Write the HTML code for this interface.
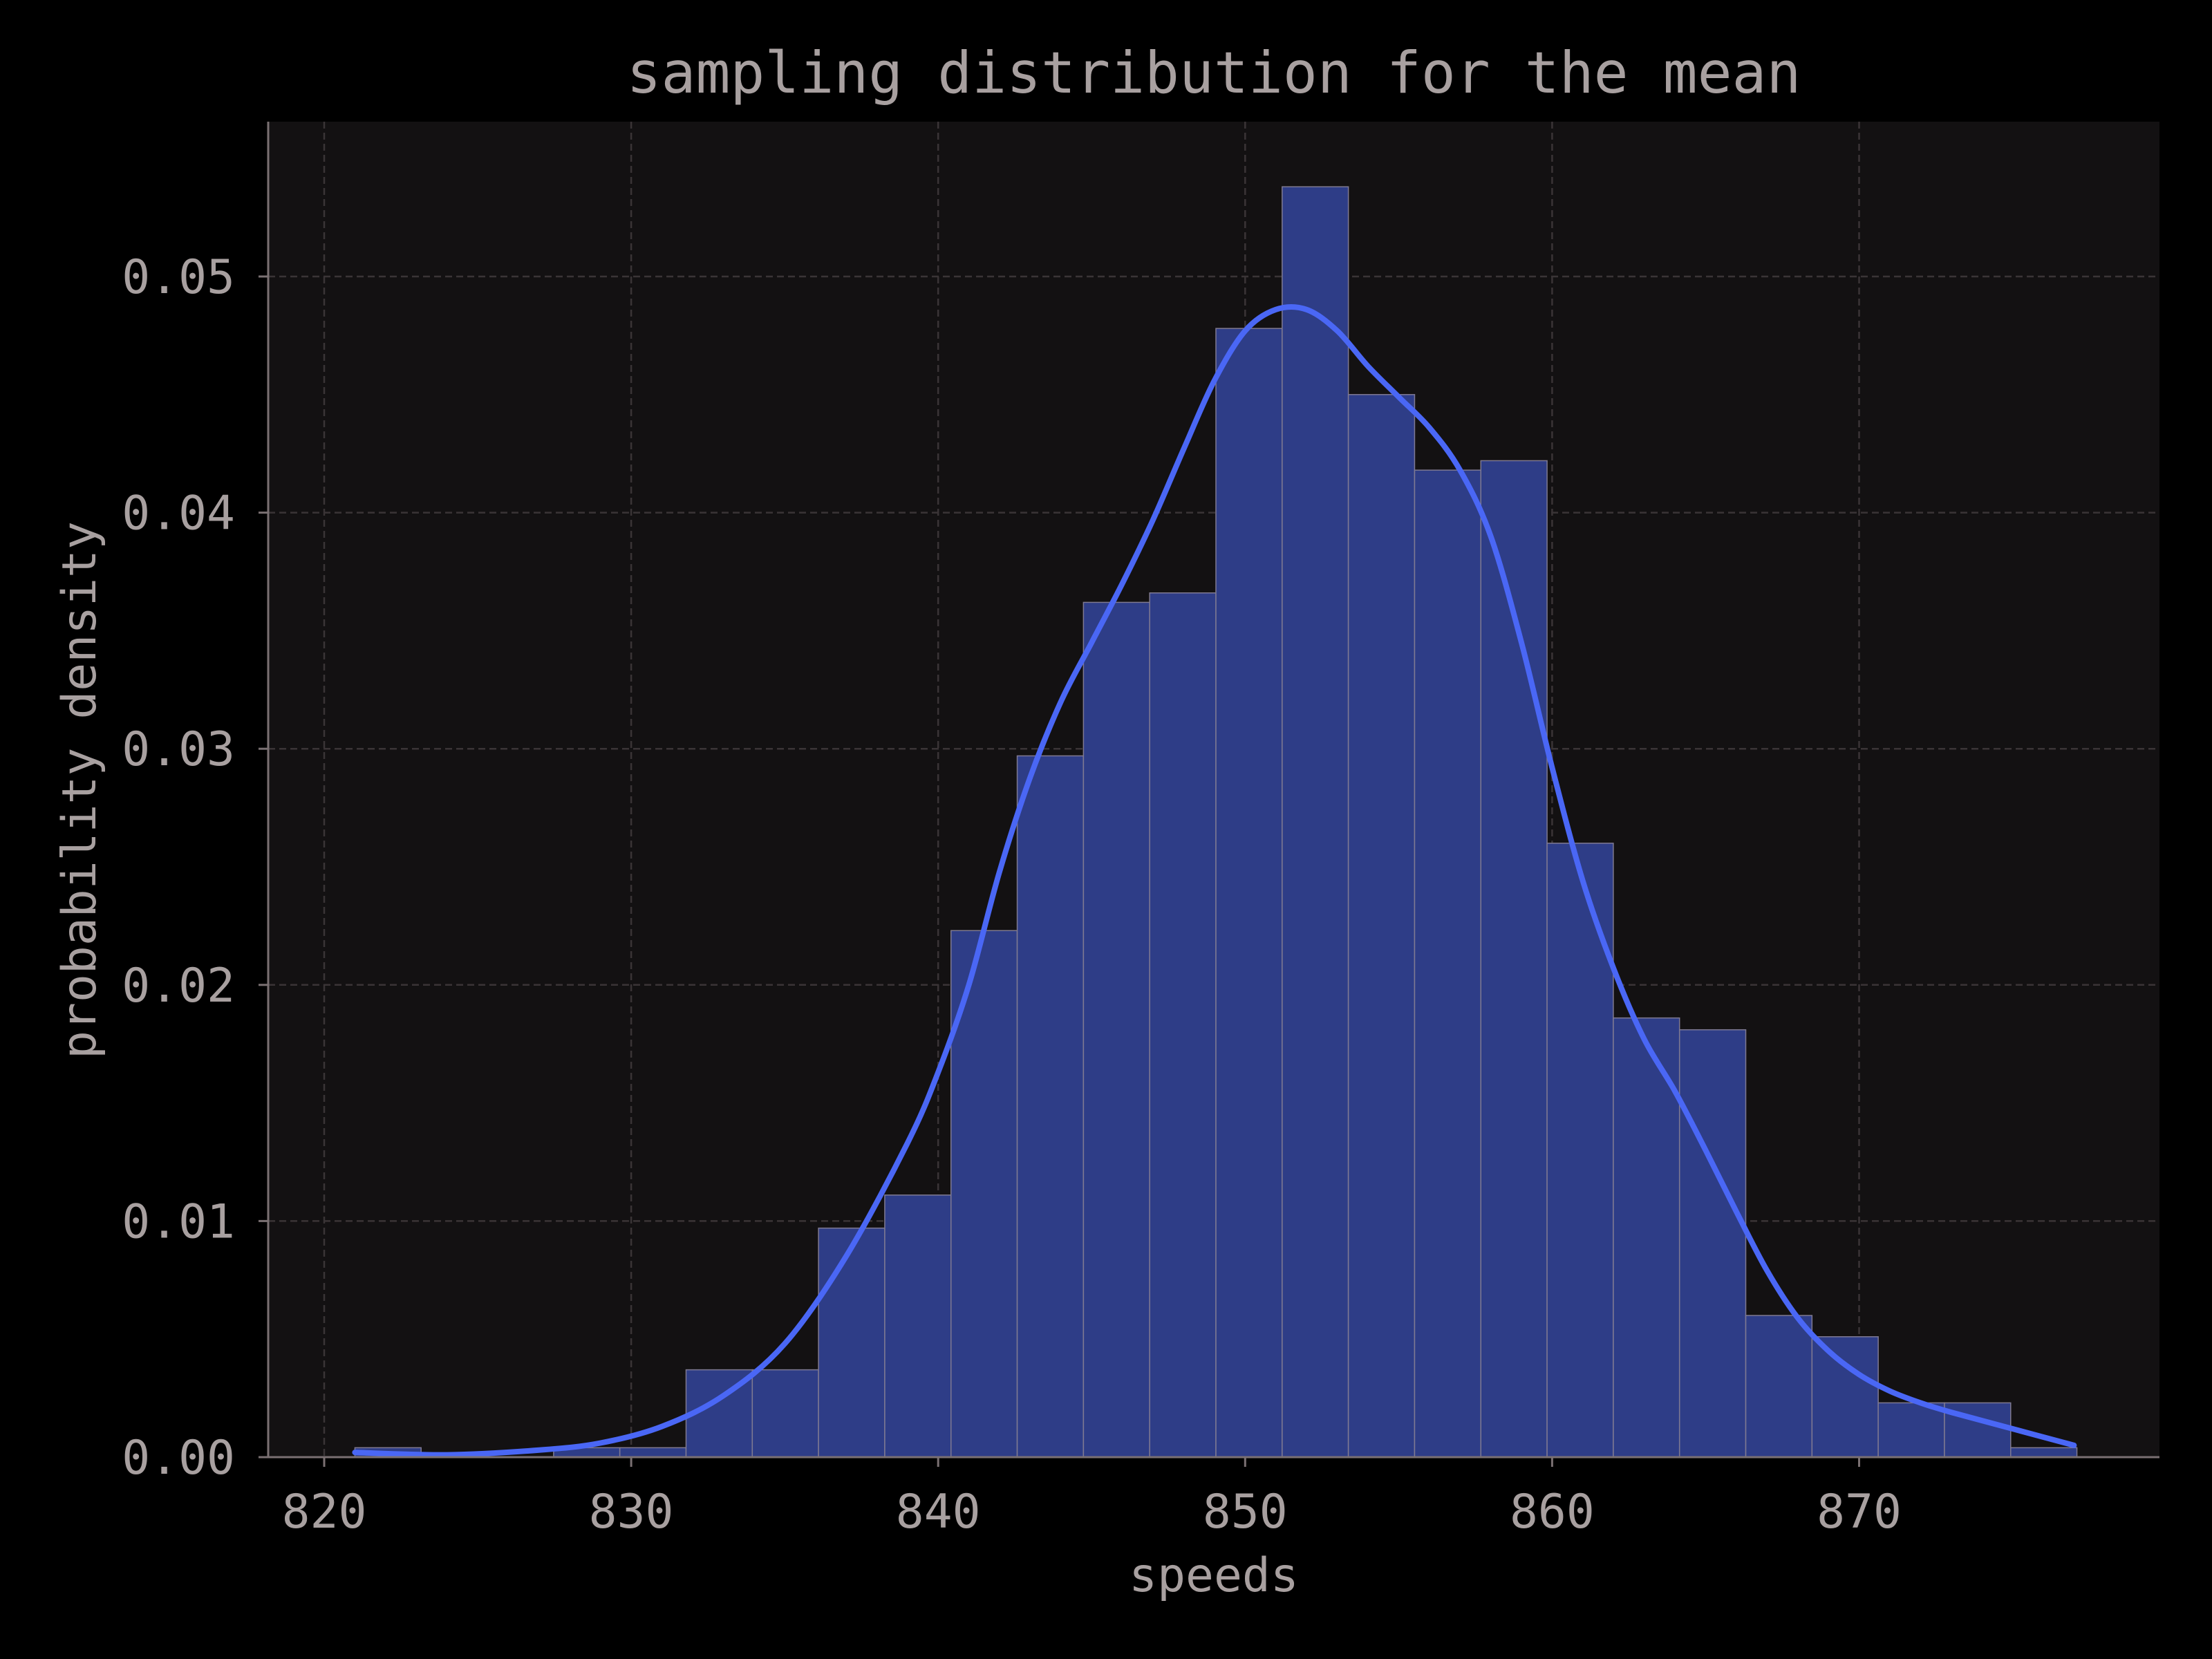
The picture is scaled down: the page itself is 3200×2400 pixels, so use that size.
<!DOCTYPE html>
<html><head><meta charset="utf-8"><style>
html,body{margin:0;padding:0;background:#000;}
svg{display:block;}
text{font-family:"DejaVu Sans Mono","Liberation Mono",monospace;fill:#a8a0a0;}
</style></head><body>
<svg id="chart" width="3200" height="2400" viewBox="0 0 3200 2400">
<rect x="0" y="0" width="3200" height="2400" fill="#000"/>
<rect x="388" y="176" width="2736" height="1932" fill="#131112"/>
<g id="grid"></g>
<g id="bars"></g>
<path id="kde" fill="none" stroke="#4a67f5" stroke-width="8" stroke-linejoin="round" stroke-linecap="round"/>
<line x1="388" y1="176" x2="388" y2="2108" stroke="#7a7072" stroke-width="3"/>
<line x1="388" y1="2108" x2="3124" y2="2108" stroke="#7a7072" stroke-width="3"/>
<g id="ticks"></g>
<text x="1756" y="134" font-size="83" text-anchor="middle">sampling distribution for the mean</text>
<text x="1756" y="2302" font-size="68" text-anchor="middle">speeds</text>
<text x="0" y="0" font-size="68" text-anchor="middle" transform="translate(138,1143) rotate(-90)">probability density</text>
</svg>
<script>
const binStart = 821.0;
const binWidth = 2.1575;
const binDensities = [0.0004,0,0,0.0004,0.0004,0.0037,0.0037,0.0097,0.0111,0.0223,0.0297,0.0362,0.0366,0.0478,0.0538,0.0450,0.0418,0.0422,0.0260,0.0186,0.0181,0.0060,0.0051,0.0023,0.0023,0.0004];
const kdeX = [821,824,827,829,831,833,835,837,839,840,841,842,843,844,845,846,847,848,849,850,851,852,853,854,855,856,857,858,859,860,861,862,863,864,865,866,867,868,869,870,871,872,873,875,877];
const kdeY = [0.0002,0.0001,0.0003,0.0006,0.0013,0.0026,0.0048,0.0085,0.0133,0.0163,0.0200,0.0248,0.0288,0.0320,0.0345,0.0370,0.0397,0.0427,0.0456,0.0477,0.0486,0.0486,0.0477,0.0462,0.0449,0.0436,0.0418,0.0390,0.0345,0.0292,0.0244,0.0207,0.0177,0.0155,0.0130,0.0104,0.0079,0.0059,0.0045,0.0035,0.0028,0.0023,0.0019,0.0012,0.0005];
const xTicks = [820,830,840,850,860,870];
const yTicks = [0,0.01,0.02,0.03,0.04,0.05];
const yTickLabels = ["0.00","0.01","0.02","0.03","0.04","0.05"];

const NS = "http://www.w3.org/2000/svg";
function px(v){return 469 + (v-820)*44.41;}
function py(v){return 2108 - v*34160;}
function mk(tag, attrs, parent){const e=document.createElementNS(NS,tag);for(const k in attrs)e.setAttribute(k,attrs[k]);parent.appendChild(e);return e;}

const grid=document.getElementById('grid'), bars=document.getElementById('bars'), ticks=document.getElementById('ticks');
xTicks.forEach(t=>{
  const l=mk('line',{x1:px(t),x2:px(t),y1:176,y2:2108,stroke:'#3a3436','stroke-width':2.5,'stroke-dasharray':'10 6'},grid);
  
  
  const tk=mk('line',{x1:px(t),x2:px(t),y1:2108,y2:2122,stroke:'#7a7072','stroke-width':3},ticks);
  
  
  const tx=mk('text',{x:px(t),y:2210,'font-size':68,'text-anchor':'middle'},ticks);
  tx.textContent=String(t);
  
  
});
yTicks.forEach((t,i)=>{
  if(t>0){
  const l=mk('line',{x1:388,x2:3124,y1:py(t),y2:py(t),stroke:'#3a3436','stroke-width':2.5,'stroke-dasharray':'10 6'},grid);
  
  
  }
  const tk=mk('line',{x1:374,x2:388,y1:py(t),y2:py(t),stroke:'#7a7072','stroke-width':3},ticks);
  
  
  const tx=mk('text',{x:340,y:py(t)+24,'font-size':68,'text-anchor':'end'},ticks);
  tx.textContent=yTickLabels[i];
  
  
});
binDensities.forEach((d,i)=>{
  if(d<=0) return;
  const x0=px(binStart+i*binWidth), x1=px(binStart+(i+1)*binWidth);
  const r=mk('rect',{x:x0,y:py(d),width:x1-x0,height:2108-py(d),fill:'#2e3d87',stroke:'#7f7a92','stroke-width':1.5},bars);
  
  
});
const pts=kdeX.map((x,i)=>[px(x),py(kdeY[i])]);
let d='M'+pts[0][0]+','+pts[0][1];
for(let i=0;i<pts.length-1;i++){
  const p0=pts[Math.max(0,i-1)],p1=pts[i],p2=pts[i+1],p3=pts[Math.min(pts.length-1,i+2)];
  const c1=[p1[0]+(p2[0]-p0[0])/6,p1[1]+(p2[1]-p0[1])/6];
  const c2=[p2[0]-(p3[0]-p1[0])/6,p2[1]-(p3[1]-p1[1])/6];
  d+=' C'+c1[0]+','+c1[1]+' '+c2[0]+','+c2[1]+' '+p2[0]+','+p2[1];
}
document.getElementById('kde').setAttribute('d',d);
</script>
</body></html>
